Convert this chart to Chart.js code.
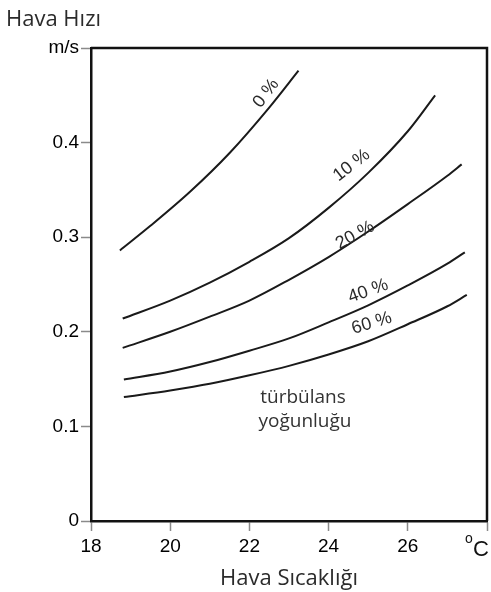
<!DOCTYPE html>
<html>
<head>
<meta charset="utf-8">
<title>Hava Hızı</title>
<script src="https://cdn.jsdelivr.net/npm/chart.js@4"></script>
<style>
    html, body { margin: 0; padding: 0; background: #fff; }
    canvas { display: block; }
</style>
</head>
<body>
<canvas id="chart" width="491" height="592"></canvas>
<script>
// =====================================
// Data: air speed (m/s) vs air temperature (°C) per turbulence level
// =====================================
const turbulenceLevels = ["0 %", "10 %", "20 %", "40 %", "60 %"];

const temp0  = [18.73, 19.5, 20.5, 21.5, 22.5, 23.24];
const speed0 = [0.286, 0.312, 0.348, 0.389, 0.437, 0.476];

const temp10  = [18.8, 20, 21, 22, 23, 24, 25, 26, 26.69];
const speed10 = [0.214, 0.233, 0.252, 0.274, 0.299, 0.331, 0.368, 0.412, 0.450];

const temp20  = [18.8, 20, 21, 22, 23, 24, 25, 26, 27, 27.36];
const speed20 = [0.183, 0.200, 0.216, 0.233, 0.255, 0.279, 0.306, 0.335, 0.365, 0.377];

const temp40  = [18.83, 20, 21, 22, 23, 24, 25, 26, 27, 27.44];
const speed40 = [0.1495, 0.158, 0.168, 0.180, 0.193, 0.210, 0.228, 0.249, 0.272, 0.284];

const temp60  = [18.83, 20, 21, 22, 23, 24, 25, 26, 27, 27.49];
const speed60 = [0.131, 0.138, 0.145, 0.154, 0.164, 0.176, 0.190, 0.208, 0.227, 0.239];

const xTicks = [18, 20, 22, 24, 26, 28];
const yTicks = [0, 0.1, 0.2, 0.3, 0.4, 0.5];

// label anchor (in data units) and rotation for each curve name
const labelSpots = [
    { x: 22.42, y: 0.452, angle: -53 },
    { x: 24.58, y: 0.376, angle: -38 },
    { x: 24.67, y: 0.302, angle: -29 },
    { x: 25.00, y: 0.243, angle: -20 },
    { x: 25.09, y: 0.209, angle: -17 }
];

const toPoints = (xs, ys) => xs.map((x, i) => ({ x: x, y: ys[i] }));

const curves = [
    toPoints(temp0, speed0),
    toPoints(temp10, speed10),
    toPoints(temp20, speed20),
    toPoints(temp40, speed40),
    toPoints(temp60, speed60)
];

// =====================================
// Extra drawing: frame, curve labels, axis titles
// =====================================
const decorations = {
    id: "decorations",
    afterDraw(chart) {
        const { ctx, chartArea, scales } = chart;
        const xs = scales.x, ys = scales.y;
        ctx.save();

        // top and right edges of the frame
        ctx.strokeStyle = "#111";
        ctx.lineWidth = 2.5;
        ctx.beginPath();
        ctx.moveTo(chartArea.left, chartArea.top);
        ctx.lineTo(chartArea.right, chartArea.top);
        ctx.lineTo(chartArea.right, chartArea.bottom);
        ctx.stroke();

        // curve names, rotated along each line
        ctx.fillStyle = "#2a2a2a";
        ctx.font = "18px 'Liberation Sans', Arial, sans-serif";
        ctx.textAlign = "center";
        ctx.textBaseline = "middle";
        turbulenceLevels.forEach((name, i) => {
            const spot = labelSpots[i];
            ctx.save();
            ctx.translate(xs.getPixelForValue(spot.x), ys.getPixelForValue(spot.y));
            ctx.rotate(spot.angle * Math.PI / 180);
            ctx.fillText(name, 0, 0);
            ctx.restore();
        });

        // legend note inside the plot
        ctx.fillStyle = "#333";
        ctx.font = "19px 'Open Sans', sans-serif";
        ctx.textBaseline = "alphabetic";
        ctx.fillText("türbülans", 303, 403);
        ctx.fillText("yoğunluğu", 305, 427);

        // axis titles
        ctx.fillStyle = "#2b2b2b";
        ctx.font = "22px 'Open Sans', sans-serif";
        ctx.textAlign = "left";
        ctx.fillText("Hava Hızı", 6, 26);
        ctx.textAlign = "center";
        ctx.fillText("Hava Sıcaklığı", 289, 585);

        // unit at the end of the x axis
        ctx.fillStyle = "#111";
        ctx.textAlign = "left";
        ctx.font = "14px 'Liberation Sans', Arial, sans-serif";
        ctx.fillText("o", 465, 543);
        ctx.font = "22px 'Liberation Sans', Arial, sans-serif";
        ctx.fillText("C", 473, 556);

        ctx.restore();
    }
};

// =====================================
// Chart
// =====================================
const ctx = document.getElementById("chart").getContext("2d");
new Chart(ctx, {
    type: "scatter",
    data: {
        datasets: curves.map((pts, i) => ({
            label: turbulenceLevels[i],
            data: pts,
            showLine: true,
            borderColor: "#1a1a1a",
            borderWidth: 2,
            pointRadius: 0,
            cubicInterpolationMode: "monotone",
            fill: false
        }))
    },
    options: {
        responsive: false,
        animation: false,
        layout: { padding: { top: 48, right: 4, left: 0, bottom: 0 } },
        plugins: {
            legend: { display: false },
            tooltip: { enabled: false }
        },
        scales: {
            x: {
                type: "linear",
                min: xTicks[0],
                max: xTicks[xTicks.length - 1],
                afterBuildTicks: scale => { scale.ticks = xTicks.map(v => ({ value: v })); },
                afterFit: scale => { scale.height = 71; },
                ticks: {
                    padding: 4,
                    color: "#000",
                    font: { family: "'Liberation Sans', Arial, sans-serif", size: 19 },
                    callback: v => (v === 28 ? "" : v)
                },
                grid: {
                    drawOnChartArea: false,
                    tickLength: 10,
                    tickColor: "#8a8a8a",
                    tickWidth: 1.5
                },
                border: { color: "#111", width: 2.5 }
            },
            y: {
                type: "linear",
                min: yTicks[0],
                max: yTicks[yTicks.length - 1],
                afterBuildTicks: scale => { scale.ticks = yTicks.map(v => ({ value: v })); },
                afterFit: scale => { scale.width = 91; },
                ticks: {
                    padding: 2,
                    color: "#000",
                    font: { family: "'Liberation Sans', Arial, sans-serif", size: 19 },
                    callback: v => {
                        if (Math.abs(v - 0.5) < 1e-6) return "m/s";
                        if (v === 0) return "0";
                        return v.toFixed(1);
                    }
                },
                grid: {
                    drawOnChartArea: false,
                    tickLength: 10,
                    tickColor: "#8a8a8a",
                    tickWidth: 1.5
                },
                border: { color: "#111", width: 2.5 }
            }
        }
    },
    plugins: [decorations]
});
</script>
</body>
</html>
